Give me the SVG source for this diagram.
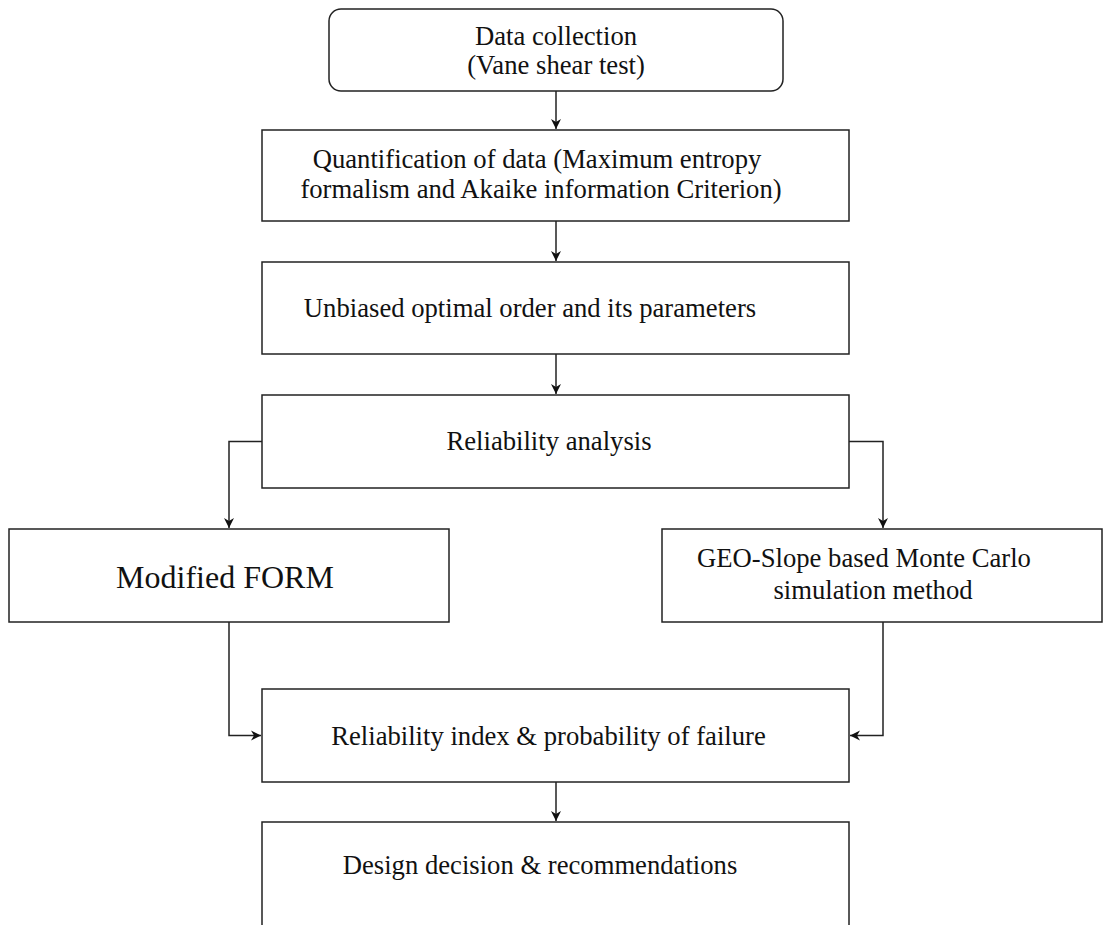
<svg xmlns="http://www.w3.org/2000/svg" width="1107" height="925" viewBox="0 0 1107 925">
  <style>
    .box { fill: #ffffff; stroke: #222222; stroke-width: 1.5; }
    .lbl { font-family: "Liberation Serif", "Times New Roman", serif; font-size: 26.67px; fill: #111111; text-anchor: middle; }
    .big { font-size: 32px; }
    .edge { fill: none; stroke: #222222; stroke-width: 1.5; marker-end: url(#arr); }
  </style>
  <defs>
    <marker id="arr" markerUnits="userSpaceOnUse" viewBox="-11 -6 12 12" refX="0" refY="0" markerWidth="12" markerHeight="12" orient="auto">
      <path d="M -10 -5 L 0 0 L -10 5 L -7 0 Z" fill="#111111"/>
    </marker>
  </defs>
  <rect width="1107" height="925" fill="#ffffff"/>

  <g id="connectors">
    <path class="edge" d="M556 91 V129"/>
    <path class="edge" d="M556 221 V261"/>
    <path class="edge" d="M556 354 V394"/>
    <path class="edge" d="M262 441.5 H229 V528"/>
    <path class="edge" d="M849 441.5 H883 V528"/>
    <path class="edge" d="M229 622 V735.5 H261"/>
    <path class="edge" d="M883 622 V735.5 H850"/>
    <path class="edge" d="M556 782 V821"/>
  </g>

  <g id="node-data-collection">
    <rect class="box" x="329" y="9" width="454" height="82" rx="12" ry="12"/>
    <text class="lbl" x="556" y="44.5">Data collection</text>
    <text class="lbl" x="556" y="73.5">(Vane shear test)</text>
  </g>

  <g id="node-quantification">
    <rect class="box" x="262" y="130" width="587" height="91"/>
    <text class="lbl" x="537" y="168">Quantification of data (Maximum entropy</text>
    <text class="lbl" x="541" y="198">formalism and Akaike information Criterion)</text>
  </g>

  <g id="node-unbiased">
    <rect class="box" x="262" y="262" width="587" height="92"/>
    <text class="lbl" x="530" y="317">Unbiased optimal order and its parameters</text>
  </g>

  <g id="node-reliability-analysis">
    <rect class="box" x="262" y="395" width="587" height="93"/>
    <text class="lbl" x="549" y="450">Reliability analysis</text>
  </g>

  <g id="node-modified-form">
    <rect class="box" x="9" y="529" width="440" height="93"/>
    <text class="lbl big" x="225" y="588">Modified FORM</text>
  </g>

  <g id="node-geo-slope">
    <rect class="box" x="662" y="529" width="440" height="93"/>
    <text class="lbl" x="864" y="567">GEO-Slope based Monte Carlo</text>
    <text class="lbl" x="873" y="599">simulation method</text>
  </g>

  <g id="node-reliability-index">
    <rect class="box" x="262" y="689" width="587" height="93"/>
    <text class="lbl" x="548.5" y="745">Reliability index &amp; probability of failure</text>
  </g>

  <g id="node-design-decision">
    <rect class="box" x="262" y="822" width="587" height="120"/>
    <text class="lbl" x="540" y="874">Design decision &amp; recommendations</text>
  </g>
</svg>
